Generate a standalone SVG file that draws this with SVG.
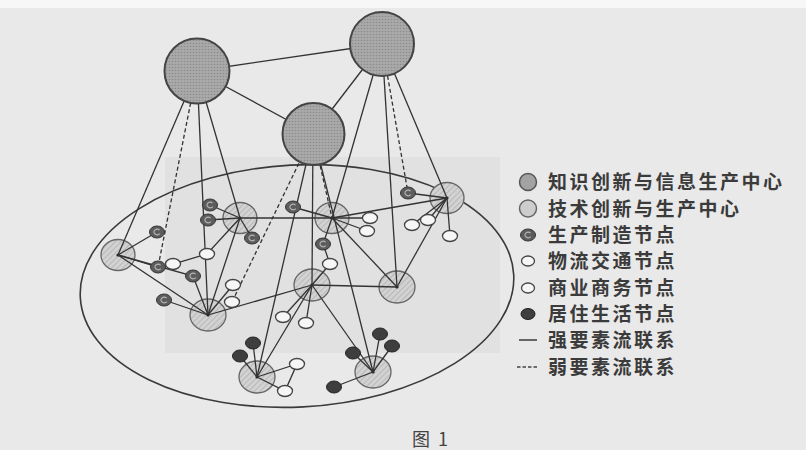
<svg xmlns="http://www.w3.org/2000/svg" xmlns:xlink="http://www.w3.org/1999/xlink" width="806" height="450" viewBox="0 0 806 450">
<defs>
<pattern id="dots" width="3" height="3" patternUnits="userSpaceOnUse"><rect width="3" height="3" fill="#a9a9a9"/><circle cx="1.5" cy="1.5" r="0.8" fill="#8c8c8c"/></pattern>
<pattern id="hatch" width="4" height="4" patternUnits="userSpaceOnUse" patternTransform="rotate(45)"><rect width="4" height="4" fill="#d2d2d2"/><line x1="0" y1="0" x2="0" y2="4" stroke="#a6a6a6" stroke-width="1.2"/></pattern>
<g id="prod"><ellipse rx="7.5" ry="6" class="pn"/><path d="M2.6,-1.9 A3.3,2.7 0 1 0 2.9,1.6" stroke="#b4b4b4" stroke-width="1.2" fill="none"/></g>
<ellipse id="white" rx="7.5" ry="5.5" class="wn"/>
<ellipse id="res" rx="7.5" ry="6" class="rn"/>
<style>
.ln{stroke:#333;stroke-width:1.3;fill:none}
.dash{stroke-dasharray:4 2.5}
.kc{fill:url(#dots);stroke:#444;stroke-width:2}
.tc{fill:url(#hatch);stroke:#666;stroke-width:1.3}
.pn{fill:#5c5c5c;stroke:#333;stroke-width:1}
.wn{fill:#f6f6f6;stroke:#444;stroke-width:1.3}
.rn{fill:#3e3e3e;stroke:#222;stroke-width:1}
.lg{font-family:"Noto Sans CJK SC",sans-serif;font-size:19px;font-weight:700;fill:#3b3b3b;letter-spacing:2.5px}
</style>
</defs>
<rect width="806" height="450" fill="#e9e9e9"/>
<rect x="0" y="0" width="806" height="8" fill="#f7f7f7"/>
<rect x="165" y="157" width="335" height="196" fill="#e1e1e1"/>

<g id="region"><ellipse cx="297" cy="286" rx="217" ry="121" transform="rotate(-3 297 286)" fill="none" stroke="#3a3a3a" stroke-width="1.6"/></g>

<g id="tech-centers">
<g id="T1"><ellipse cx="118" cy="255" rx="17" ry="15.5" class="tc"/><circle cx="118" cy="255" r="1.6" fill="#222"/></g>
<g id="T2"><ellipse cx="240" cy="218" rx="17" ry="15.5" class="tc"/><circle cx="240" cy="218" r="1.6" fill="#222"/></g>
<g id="T3"><ellipse cx="332" cy="218" rx="17" ry="15.5" class="tc"/><circle cx="332" cy="218" r="1.6" fill="#222"/></g>
<g id="T4"><ellipse cx="447" cy="198" rx="17" ry="15.5" class="tc"/><circle cx="447" cy="198" r="1.6" fill="#222"/></g>
<g id="T5"><ellipse cx="312" cy="285" rx="18" ry="16" class="tc"/><circle cx="312" cy="285" r="1.6" fill="#222"/></g>
<g id="T6"><ellipse cx="397" cy="287" rx="18" ry="16" class="tc"/><circle cx="397" cy="287" r="1.6" fill="#222"/></g>
<g id="T7"><ellipse cx="208" cy="315" rx="18" ry="16" class="tc"/><circle cx="208" cy="315" r="1.6" fill="#222"/></g>
<g id="T8"><ellipse cx="257" cy="377" rx="18" ry="16" class="tc"/><circle cx="257" cy="377" r="1.6" fill="#222"/></g>
<g id="T9"><ellipse cx="373" cy="372" rx="18" ry="16" class="tc"/><circle cx="373" cy="372" r="1.6" fill="#222"/></g>
</g>

<g id="connectors" class="ln">
<line x1="197" y1="71" x2="382" y2="44"/>
<line x1="197" y1="71" x2="313" y2="134"/>
<line x1="382" y1="44" x2="313" y2="134"/>
<line x1="197" y1="71" x2="118" y2="255"/>
<line x1="197" y1="71" x2="208" y2="315"/>
<line x1="197" y1="71" x2="240" y2="218"/>
<line x1="382" y1="44" x2="332" y2="218"/>
<line x1="382" y1="44" x2="397" y2="287"/>
<line x1="382" y1="44" x2="447" y2="198"/>
<line x1="313" y1="134" x2="257" y2="377"/>
<line x1="313" y1="134" x2="312" y2="285"/>
<line x1="313" y1="134" x2="373" y2="372"/>
<line class="dash" x1="197" y1="71" x2="158" y2="267"/>
<line class="dash" x1="382" y1="44" x2="408" y2="193"/>
<line class="dash" x1="313" y1="134" x2="232" y2="302"/>
<line class="dash" x1="313" y1="134" x2="332" y2="218"/>
<line x1="118" y1="255" x2="157" y2="232"/>
<polyline points="118,255 158,267 173,264 207,254 240,218"/>
<line x1="118" y1="255" x2="208" y2="315"/>
<polyline points="118,255 193,276 208,315"/>
<line x1="164" y1="300" x2="208" y2="315"/>
<line x1="240" y1="218" x2="210" y2="205"/>
<line x1="240" y1="218" x2="208" y2="220"/>
<line x1="240" y1="218" x2="252" y2="238"/>
<line x1="240" y1="218" x2="332" y2="218"/>
<line x1="240" y1="218" x2="208" y2="315"/>
<line x1="208" y1="315" x2="233" y2="285"/>
<line x1="208" y1="315" x2="312" y2="285"/>
<line x1="332" y1="218" x2="447" y2="198"/>
<line x1="332" y1="218" x2="293" y2="207"/>
<line x1="332" y1="218" x2="370" y2="218"/>
<line x1="332" y1="218" x2="367" y2="231"/>
<line x1="332" y1="218" x2="397" y2="287"/>
<polyline points="332,218 323,244 330,264 312,285"/>
<line x1="447" y1="198" x2="408" y2="193"/>
<line x1="447" y1="198" x2="412" y2="225"/>
<line x1="447" y1="198" x2="428" y2="220"/>
<line x1="447" y1="198" x2="450" y2="236"/>
<line x1="447" y1="198" x2="397" y2="287"/>
<line x1="312" y1="285" x2="397" y2="287"/>
<line x1="312" y1="285" x2="283" y2="317"/>
<line x1="312" y1="285" x2="306" y2="323"/>
<line x1="312" y1="285" x2="257" y2="377"/>
<line x1="312" y1="285" x2="373" y2="372"/>
<line x1="257" y1="377" x2="253" y2="343"/>
<line x1="257" y1="377" x2="240" y2="356"/>
<polyline points="257,377 297,364 285,391 257,377"/>
<line x1="373" y1="372" x2="380" y2="334"/>
<line x1="373" y1="372" x2="392" y2="346"/>
<line x1="373" y1="372" x2="353" y2="353"/>
<line x1="373" y1="372" x2="334" y2="387"/>
</g>

<g id="knowledge-centers">
<g id="K1"><circle cx="197" cy="71" r="32.5" class="kc"/></g>
<g id="K2"><circle cx="382" cy="44" r="32" class="kc"/></g>
<g id="K3"><circle cx="313.5" cy="134" r="31" class="kc"/></g>
</g>

<g id="production-nodes">
<g id="P1"><use href="#prod" x="157" y="232"/></g>
<g id="P2"><use href="#prod" x="210" y="205"/></g>
<g id="P3"><use href="#prod" x="208" y="220"/></g>
<g id="P4"><use href="#prod" x="252" y="238"/></g>
<g id="P5"><use href="#prod" x="158" y="267"/></g>
<g id="P6"><use href="#prod" x="193" y="276"/></g>
<g id="P7"><use href="#prod" x="164" y="300"/></g>
<g id="P8"><use href="#prod" x="293" y="207"/></g>
<g id="P9"><use href="#prod" x="408" y="193"/></g>
<g id="P10"><use href="#prod" x="323" y="244"/></g>
</g>

<g id="residential-nodes">
<g id="R1"><use href="#res" x="253" y="343"/></g>
<g id="R2"><use href="#res" x="240" y="356"/></g>
<g id="R3"><use href="#res" x="380" y="334"/></g>
<g id="R4"><use href="#res" x="392" y="346"/></g>
<g id="R5"><use href="#res" x="353" y="353"/></g>
<g id="R6"><use href="#res" x="334" y="387"/></g>
</g>

<g id="white-nodes">
<g id="W1"><use href="#white" x="207" y="254"/></g>
<g id="W2"><use href="#white" x="173" y="264"/></g>
<g id="W3"><use href="#white" x="233" y="285"/></g>
<g id="W4"><use href="#white" x="232" y="302"/></g>
<g id="W5"><use href="#white" x="370" y="218"/></g>
<g id="W6"><use href="#white" x="367" y="231"/></g>
<g id="W7"><use href="#white" x="412" y="225"/></g>
<g id="W8"><use href="#white" x="428" y="220"/></g>
<g id="W9"><use href="#white" x="450" y="236"/></g>
<g id="W10"><use href="#white" x="330" y="264"/></g>
<g id="W11"><use href="#white" x="283" y="317"/></g>
<g id="W12"><use href="#white" x="306" y="323"/></g>
<g id="W13"><use href="#white" x="297" y="364"/></g>
<g id="W14"><use href="#white" x="285" y="391"/></g>
</g>

<g id="legend">
<circle cx="528" cy="182" r="8.5" fill="#a3a3a3" stroke="#555" stroke-width="1.5"/>
<text class="lg" x="548" y="189">知识创新与信息生产中心</text>
<circle cx="528" cy="208.5" r="8.5" fill="#cdcdcd" stroke="#666" stroke-width="1.5"/>
<text class="lg" x="548" y="215.5">技术创新与生产中心</text>
<use href="#prod" x="528" y="235"/>
<text class="lg" x="548" y="242">生产制造节点</text>
<ellipse cx="528" cy="261" rx="6.5" ry="5" class="wn"/>
<text class="lg" x="548" y="268">物流交通节点</text>
<ellipse cx="528" cy="288" rx="6.5" ry="5" class="wn"/>
<text class="lg" x="548" y="295">商业商务节点</text>
<ellipse cx="528" cy="314" rx="7" ry="5.5" class="rn"/>
<text class="lg" x="548" y="321">居住生活节点</text>
<line x1="519" y1="340" x2="537" y2="340" stroke="#444" stroke-width="1.6"/>
<text class="lg" x="548" y="347">强要素流联系</text>
<line x1="517" y1="367" x2="538" y2="367" stroke="#444" stroke-width="1.6" stroke-dasharray="3.5 2"/>
<text class="lg" x="548" y="374">弱要素流联系</text>
</g>

<text x="412" y="446" font-family="Noto Sans CJK SC, sans-serif" font-size="18" fill="#444" xml:space="preserve">图  1</text>
</svg>
